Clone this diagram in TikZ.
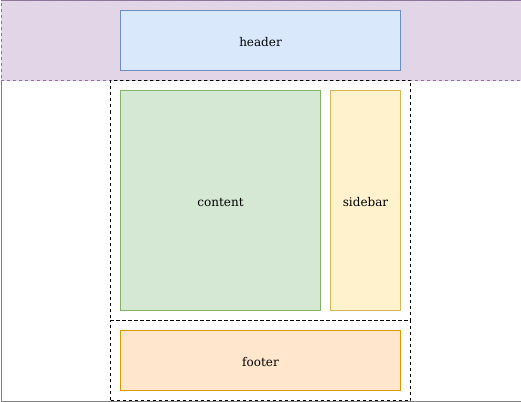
\documentclass[tikz,border=0pt]{standalone}
\usepackage{fontspec}
\setmainfont{DejaVu Serif}
\definecolor{purpleF}{HTML}{E1D5E7}\definecolor{purpleD}{HTML}{9673A6}
\definecolor{blueF}{HTML}{DAE8FC}\definecolor{blueD}{HTML}{6C8EBF}
\definecolor{greenF}{HTML}{D5E8D4}\definecolor{greenD}{HTML}{82B366}
\definecolor{yellowF}{HTML}{FFF2CC}\definecolor{yellowD}{HTML}{D6B656}
\definecolor{orangeF}{HTML}{FFE6CC}\definecolor{orangeD}{HTML}{D79B00}
\definecolor{grayD}{HTML}{808080}
\tikzset{
  box/.style={draw, line width=1pt, inner sep=0pt, font=\fontsize{12}{14}\selectfont, anchor=north west, text height=12pt, text depth=0pt},
  dbox/.style={draw=black, line width=1pt, dash pattern=on 3pt off 3pt, anchor=north west, inner sep=0pt},
}
\begin{document}
\begin{tikzpicture}[x=1pt,y=-1pt]
\useasboundingbox (0,0) rectangle (521,401);
\node[draw=grayD, line width=1pt, fill=white, anchor=north west, inner sep=0pt, minimum width=520pt, minimum height=400pt] (page) at (0.5,0.5) {};
\node[draw=purpleD, fill=purpleF, line width=1pt, dash pattern=on 3pt off 3pt, anchor=north west, inner sep=0pt, minimum width=520pt, minimum height=80pt] (band) at (0.5,0.5) {};
\node[dbox, minimum width=300pt, minimum height=240pt] (main) at (110,80) {};
\node[dbox, minimum width=300pt, minimum height=80pt] (foot) at (110,320) {};
\node[box, draw=blueD, fill=blueF, minimum width=280pt, minimum height=60pt] (header) at (120,10) {header};
\node[box, draw=greenD, fill=greenF, minimum width=200pt, minimum height=220pt] (content) at (120,90) {content};
\node[box, draw=yellowD, fill=yellowF, minimum width=70pt, minimum height=220pt] (sidebar) at (330,90) {sidebar};
\node[box, draw=orangeD, fill=orangeF, minimum width=280pt, minimum height=60pt] (footer) at (120,330) {footer};
\end{tikzpicture}
\end{document}
